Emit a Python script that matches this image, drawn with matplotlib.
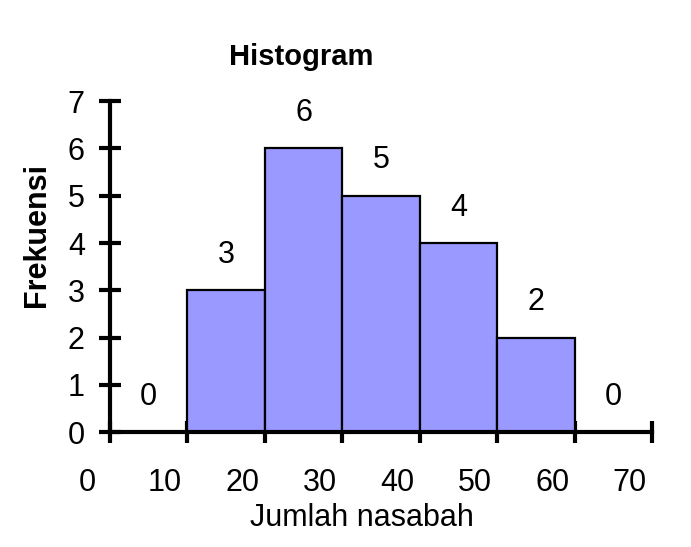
"""Histogram jumlah nasabah"""
import matplotlib.pyplot as plt
import matplotlib.transforms as mtransforms
from matplotlib.ticker import FixedLocator

plt.rcParams['font.family'] = ['Liberation Sans', 'DejaVu Sans']

CLASS_LABELS = ['0', '10', '20', '30', '40', '50', '60', '70']
FREQUENCIES = [0, 3, 6, 5, 4, 2, 0]
Y_TICKS = [0, 1, 2, 3, 4, 5, 6, 7]

FONT = 22
LABEL_SHIFT = 0.29

fig = plt.figure(figsize=(6.91, 5.47), dpi=100)
ax = fig.add_axes([0.159, 0.210, 0.785, 0.605])

positions = list(range(len(FREQUENCIES)))
ax.bar(positions, FREQUENCIES, width=1.0, align='edge',
       color='#9999ff', edgecolor='black', linewidth=1.6, zorder=2)
for x, value in zip(positions, FREQUENCIES):
    ax.text(x + 0.5, value + 0.75, str(value), ha='center', va='center', fontsize=FONT)

# tanda batas kelas, label digeser ke kiri
ax.set_xticks([])
ax.xaxis.set_minor_locator(FixedLocator(range(len(CLASS_LABELS))))
ax.tick_params(axis='x', which='minor', direction='inout', length=16, width=3)
trans = mtransforms.blended_transform_factory(ax.transData, ax.transAxes)
for i, label in enumerate(CLASS_LABELS):
    ax.text(i - LABEL_SHIFT, -0.154, label, transform=trans, ha='center', va='center',
            fontsize=FONT, clip_on=False)

ax.set_yticks(Y_TICKS)
ax.set_yticklabels([str(v) for v in Y_TICKS], fontsize=FONT)
ax.tick_params(axis='y', direction='inout', length=16, width=3, pad=10)

ax.set_xlim(0, len(FREQUENCIES))
ax.set_ylim(0, 7)

for side in ('top', 'right'):
    ax.spines[side].set_visible(False)
for side in ('left', 'bottom'):
    ax.spines[side].set_linewidth(3)
    ax.spines[side].set_zorder(3)

fig.text(0.524, 0.053, 'Jumlah nasabah', ha='center', va='center', fontsize=FONT)
fig.text(0.054, 0.570, 'Frekuensi', rotation=90, ha='center', va='center',
         fontsize=FONT, fontweight='bold')
fig.text(0.436, 0.896, 'Histogram', ha='center', va='center',
         fontsize=FONT - 1, fontweight='bold')

fig.savefig('out.png', dpi=100)
